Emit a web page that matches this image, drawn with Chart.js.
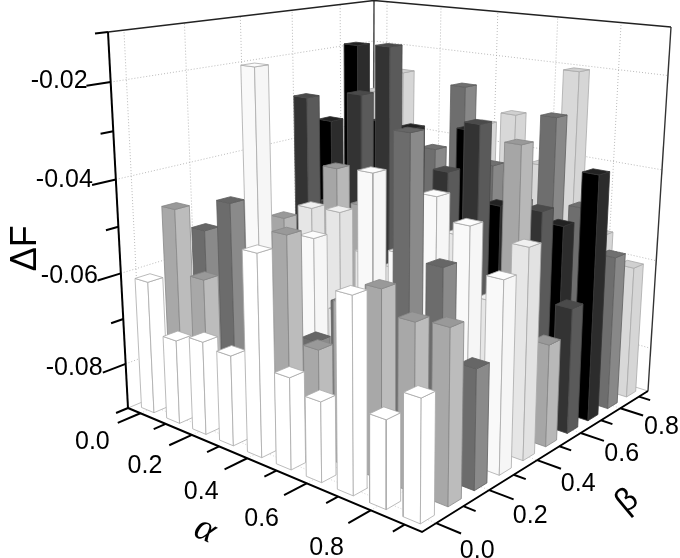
<!DOCTYPE html><html><head><meta charset="utf-8"><style>html,body{margin:0;background:#fff}canvas{display:block}</style></head><body><canvas id="c" width="680" height="558"></canvas><script src="https://cdn.jsdelivr.net/npm/chart.js@4"></script><script>
const alphaValues=[0,0.1,0.2,0.3,0.4,0.5,0.6,0.7,0.8,0.9];
const betaValues=[0,0.1,0.2,0.3,0.4,0.5,0.6,0.7,0.8,0.9];
const deltaF_beta0=[-0.0612,-0.0720,-0.0703,-0.0712,-0.0489,-0.0715,-0.0741,-0.0521,-0.0731,-0.0670];
const deltaF_beta1=[-0.0474,-0.0611,-0.0799,-0.0628,-0.0471,-0.0684,-0.0576,-0.0529,-0.0574,-0.0566];
const deltaF_beta2=[-0.0538,-0.0464,-0.0645,-0.0564,-0.0710,-0.0614,-0.0597,-0.0255,-0.0492,-0.0665];
const deltaF_beta3=[-0.0632,-0.0187,-0.0621,-0.0528,-0.0670,-0.0366,-0.0515,-0.0388,-0.0431,-0.0518];
const deltaF_beta4=[-0.0749,-0.0682,-0.0494,-0.0489,-0.0564,-0.0580,-0.0533,-0.0481,-0.0597,-0.0474];
const deltaF_beta5=[-0.0563,-0.0607,-0.0421,-0.0492,-0.0696,-0.0589,-0.0572,-0.0641,-0.0303,-0.0688];
const deltaF_beta6=[-0.0294,-0.0529,-0.0269,-0.0156,-0.0578,-0.0406,-0.0294,-0.0662,-0.0450,-0.0635];
const deltaF_beta7=[-0.0361,-0.0175,-0.0342,-0.0346,-0.0573,-0.0329,-0.0482,-0.0571,-0.0497,-0.0377];
const deltaF_beta8=[-0.0577,-0.0438,-0.0499,-0.0407,-0.0254,-0.0420,-0.0491,-0.0292,-0.0475,-0.0566];
const deltaF_beta9=[-0.0313,-0.0257,-0.0565,-0.0525,-0.0350,-0.0318,-0.0421,-0.0204,-0.0551,-0.0607];
const deltaF=[deltaF_beta0,deltaF_beta1,deltaF_beta2,deltaF_beta3,deltaF_beta4,deltaF_beta5,deltaF_beta6,deltaF_beta7,deltaF_beta8,deltaF_beta9];
const leftFace=['#ffffff','#a8a8a8','#6c6c6c','#f9f9f9','#e6e6e6','#a6a6a6','#333333','#000000','#6e6e6e','#d8d8d8'];
const rightFace=['#ffffff','#bcbcbc','#8a8a8a','#f6f6f6','#e2e2e2','#b8b8b8','#5a5a5a','#2c2c2c','#888888','#d6d6d6'];
const topFace=['#ffffff','#999999','#666666','#fcfcfc','#f0f0f0','#999999','#4a4a4a','#222222','#707070','#d0d0d0'];
const edgeColor=['#aaaaaa','#888888','#5e5e5e','#aaaaaa','#aaaaaa','#888888','#4a4a4a','#333333','#606060','#aaaaaa'];
const zMajor=[-0.08,-0.06,-0.04,-0.02];
const zMinor=[-0.09,-0.07,-0.05,-0.03,-0.01];
const abMajor=[0,0.2,0.4,0.6,0.8];
const abMinor=[0.1,0.3,0.5,0.7,0.9];
const AMIN=-0.05,ZMIN=-0.09,ZMAX=-0.01,HALF=0.025;
const CORNERS={f:[[128,408,1.2],[422,532,1],[373,305,1.45],[648,391,1.27]],t:[[108,32,1.116],[425,65,.93],[374,.5,1.35],[671,27,1.18]]};
function H(c,u,v){const r=[0,0,0],w=[(1-u)*(1-v),u*(1-v),(1-u)*v,u*v];for(let n=0;n<4;n++){const W=c[n][2];r[0]+=w[n]*W*c[n][0];r[1]+=w[n]*W*c[n][1];r[2]+=w[n]*W;}return r;}
function pr(a,b,F){const u=a-AMIN,v=b-AMIN,z=(F-ZMIN)/(ZMAX-ZMIN),p=H(CORNERS.f,u,v),q=H(CORNERS.t,u,v),w=[0,1,2].map(k=>(1-z)*p[k]+z*q[k]);return {x:w[0]/w[2],y:w[1]/w[2]};}
const drawn=[];
function line(pts,color,width,dash){drawn.push({data:pts,showLine:true,fill:false,borderColor:color,borderWidth:width,borderDash:dash||[],pointRadius:0,tension:0,clip:false});}
function poly(pts,fillC,edge){const closed=pts.concat([pts[0]]);drawn.push({data:closed,showLine:true,fill:'shape',backgroundColor:fillC,borderColor:edge,borderWidth:0.8,borderJoinStyle:'round',pointRadius:0,tension:0,clip:false});}
const AMAX=0.95;
const GRID='#a8a8a8';
for(const z of zMajor){line([pr(AMIN,AMIN,z),pr(AMIN,AMAX,z)],GRID,0.8,[1,2]);line([pr(AMIN,AMAX,z),pr(AMAX,AMAX,z)],GRID,0.8,[1,2]);}
for(const b of abMajor){line([pr(AMIN,b,ZMIN),pr(AMIN,b,ZMAX)],GRID,0.8,[1,2]);line([pr(b,AMAX,ZMIN),pr(b,AMAX,ZMAX)],GRID,0.8,[1,2]);
 line([pr(AMIN,b,ZMIN),pr(AMAX,b,ZMIN)],'#c8c8c8',0.8,[1,2]);line([pr(b,AMIN,ZMIN),pr(b,AMAX,ZMIN)],'#c8c8c8',0.8,[1,2]);}
line([pr(AMIN,AMIN,ZMIN),pr(AMIN,AMAX,ZMIN),pr(AMAX,AMAX,ZMIN)],'#b0b0b0',0.8);
line([pr(AMIN,AMAX,ZMIN),pr(AMIN,AMAX,ZMAX)],'#555555',1.6);
line([pr(AMAX,AMAX,ZMIN),pr(AMAX,AMAX,ZMAX)],'#333333',1.4);
line([pr(AMIN,AMIN,ZMAX),pr(AMIN,AMAX,ZMAX),pr(AMAX,AMAX,ZMAX)],'#222222',1.5);
alphaValues.forEach((a,i)=>{for(let j=betaValues.length-1;j>=0;j--){const b=betaValues[j],F=deltaF[j][i];
 const a0=a-HALF,a1=a+HALF,b0=b-HALF,b1=b+HALF;
 poly([pr(a0,b0,ZMIN),pr(a1,b0,ZMIN),pr(a1,b0,F),pr(a0,b0,F)],leftFace[j],edgeColor[j]);
 poly([pr(a1,b0,ZMIN),pr(a1,b1,ZMIN),pr(a1,b1,F),pr(a1,b0,F)],rightFace[j],edgeColor[j]);
 poly([pr(a0,b0,F),pr(a1,b0,F),pr(a1,b1,F),pr(a0,b1,F)],topFace[j],edgeColor[j]);
}});
line([pr(AMIN,AMIN,ZMIN),pr(AMIN,AMIN,ZMAX)],'#000',2);
line([pr(AMIN,AMIN,ZMIN),pr(AMAX,AMIN,ZMIN),pr(AMAX,AMAX,ZMIN)],'#000',2);
for(const z of zMajor)line([pr(AMIN,AMIN,z),pr(AMIN,AMIN-0.075,z)],'#000',2);
for(const z of zMinor)line([pr(AMIN,AMIN,z),pr(AMIN,AMIN-0.04,z)],'#000',2);
for(const t of abMajor){line([pr(t,AMIN,ZMIN),pr(t,AMIN-0.075,ZMIN)],'#000',2);line([pr(AMAX,t,ZMIN),pr(AMAX+0.07,t,ZMIN)],'#000',2);}
for(const t of abMinor){line([pr(t,AMIN,ZMIN),pr(t,AMIN-0.04,ZMIN)],'#000',2);line([pr(AMAX,t,ZMIN),pr(AMAX+0.035,t,ZMIN)],'#000',2);}
const textPlugin={id:'axisText',afterDraw(chart){const c=chart.ctx,X=chart.scales.x,Y=chart.scales.y;
 const put=(s,p,dx,dy,font,rot,al)=>{c.save();c.translate(X.getPixelForValue(p.x)+dx,Y.getPixelForValue(p.y)+dy);if(rot)c.rotate(rot*Math.PI/180);c.font=font;c.fillStyle='#000';c.textAlign=al||'center';c.textBaseline='middle';c.fillText(s,0,0);c.restore();};
 const F25='25px "Liberation Sans"';
 zMajor.forEach(z=>put(z.toFixed(2),pr(AMIN,AMIN,z),-23,-1+(-0.02-z)*85,F25,0,'right'));
 abMajor.forEach(t=>{put(t.toFixed(1),pr(t,AMIN,ZMIN),-48+t*5,29+t*11,F25);put(t.toFixed(1),pr(AMAX,t,ZMIN),41,28-t*11,F25);});
 put('ΔF',pr(AMIN,AMIN,-0.055),-94,-2,'36px "Liberation Sans"',-90);
 put('α',pr(0.4,AMIN,ZMIN),-42,72,'italic 38px "Liberation Serif"',24);
 put('β',pr(AMAX,0.4,ZMIN),90,41,'33px "Liberation Sans"',-40);
}};
new Chart(document.getElementById('c'),{type:'scatter',data:{datasets:drawn.slice().reverse()},plugins:[textPlugin],options:{responsive:false,animation:false,events:[],layout:{padding:0},plugins:{legend:{display:false},tooltip:{enabled:false}},scales:{x:{type:'linear',display:false,min:0,max:680},y:{type:'linear',display:false,min:0,max:558,reverse:true}}}});
</script></body></html>
